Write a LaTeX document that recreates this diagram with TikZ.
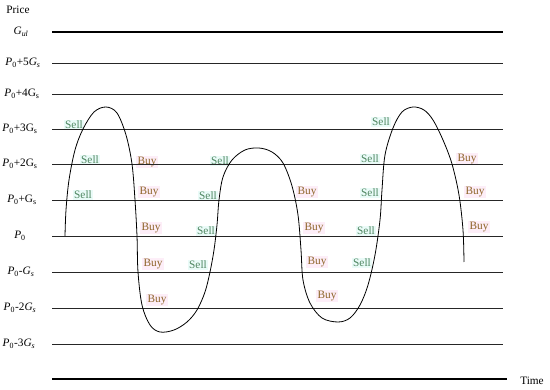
\documentclass[tikz,border=0pt]{standalone}
\usepackage{fontspec}
\setmainfont{Liberation Serif}
\definecolor{sellc}{HTML}{4E8660}
\definecolor{buyc}{HTML}{8E6428}
\definecolor{sellbg}{HTML}{EAFBF8}
\definecolor{buybg}{HTML}{FDEEF8}
\tikzset{
  lvl/.style={font=\fontsize{11.3}{12}\selectfont, inner sep=0pt},
  sell/.style={font=\fontsize{11.3}{12}\selectfont, text=sellc, fill=sellbg, inner sep=1.5pt},
  buy/.style={font=\fontsize{11.3}{12}\selectfont, text=buyc, fill=buybg, inner sep=1.5pt},
  thinline/.style={line width=0.8pt, draw=black!85},
  thickline/.style={line width=2.2pt, draw=black},
  pricecurve/.style={line width=0.8pt, draw=black}
}
\begin{document}
\begin{tikzpicture}[x=1pt,y=-1pt]
\useasboundingbox (0,0) rectangle (550,390);
% sell / buy labels (behind the lines)
\node[sell] (s1) at (74,125) {Sell};
\node[sell] (s2) at (90,160) {Sell};
\node[sell] (s3) at (83,195) {Sell};
\node[buy] (b1) at (147,162) {Buy};
\node[buy] (b2) at (149,192) {Buy};
\node[buy] (b3) at (151,228) {Buy};
\node[buy] (b4) at (153,264) {Buy};
\node[buy] (b5) at (157,300) {Buy};
\node[sell] (s4) at (220,161) {Sell};
\node[sell] (s5) at (208,196) {Sell};
\node[sell] (s6) at (206,231) {Sell};
\node[sell] (s7) at (198,265) {Sell};
\node[buy] (b6) at (307,192) {Buy};
\node[buy] (b7) at (314,228) {Buy};
\node[buy] (b8) at (317,262) {Buy};
\node[buy] (b9) at (327,296) {Buy};
\node[sell] (s8) at (381,122) {Sell};
\node[sell] (s9) at (370,159) {Sell};
\node[sell] (s10) at (370,193) {Sell};
\node[sell] (s11) at (366,231) {Sell};
\node[sell] (s12) at (362,263) {Sell};
\node[buy] (b10) at (467,159) {Buy};
\node[buy] (b11) at (475,192) {Buy};
\node[buy] (b12) at (479,227) {Buy};
% level lines
\foreach \n/\yy in {a/63,b/94,c/129,d/164,e/200,f/236,g/272,h/308,i/344}{
  \coordinate (\n1) at (52,\yy);
  \coordinate (\n2) at (503,\yy);
  \draw[thinline] (\n1) -- (\n2);
}
\coordinate (top1) at (52,32); \coordinate (top2) at (503,32);
\draw[thickline] (top1) -- (top2);
\coordinate (bot1) at (52,379); \coordinate (bot2) at (507,379);
\draw[thickline] (bot1) -- (bot2);
% axis labels
\node[lvl] (price) at (18,10) {Price};
\node[lvl] (time) at (532,381) {Time};
\node[lvl] (lgul) at (21,32) {\textit{G}\textsubscript{\textit{ul}}};
\node[lvl] (l5) at (23,63) {\textit{P}\textsubscript{0}+5\textit{G}\textsubscript{\textit{s}}};
\node[lvl] (l4) at (22,94) {\textit{P}\textsubscript{0}+4G\textsubscript{s}};
\node[lvl] (l3) at (20,129) {\textit{P}\textsubscript{0}+3G\textsubscript{s}};
\node[lvl] (l2) at (20,164) {\textit{P}\textsubscript{0}+2G\textsubscript{s}};
\node[lvl] (l1) at (22,200) {\textit{P}\textsubscript{0}+G\textsubscript{s}};
\node[lvl] (l0) at (20,236) {\textit{P}\textsubscript{0}};
\node[lvl] (lm1) at (21,272) {\textit{P}\textsubscript{0}-\textit{G}\textsubscript{\textit{s}}};
\node[lvl] (lm2) at (20,308) {\textit{P}\textsubscript{0}-2\textit{G}\textsubscript{\textit{s}}};
\node[lvl] (lm3) at (19,344) {\textit{P}\textsubscript{0}-3\textit{G}\textsubscript{\textit{s}}};
% price curve
\draw[pricecurve] plot[smooth, tension=0.55] coordinates {
 (65,236) (66,210) (69,180) (75,150) (83,129) (94,112) (106,107) (117,113)
 (126,135) (132,164) (135,200) (137,236) (138,272) (142,305) (150,325) (160,332)
 (174,330) (187,322) (197,310) (205,292) (210,272) (214,250) (217,225) (219,200)
 (223,177) (232,160) (245,150) (259,148) (272,152) (283,163) (292,186) (298,215)
 (301,250) (303,280) (310,303) (322,318) (338,322) (350,318) (360,305) (368,285)
 (375,255) (380,220) (382,190) (385,155) (393,128) (402,112) (413,107) (424,110)
 (433,120) (443,140) (452,164) (459,195) (463,230) (464,262)};
\end{tikzpicture}
\end{document}
